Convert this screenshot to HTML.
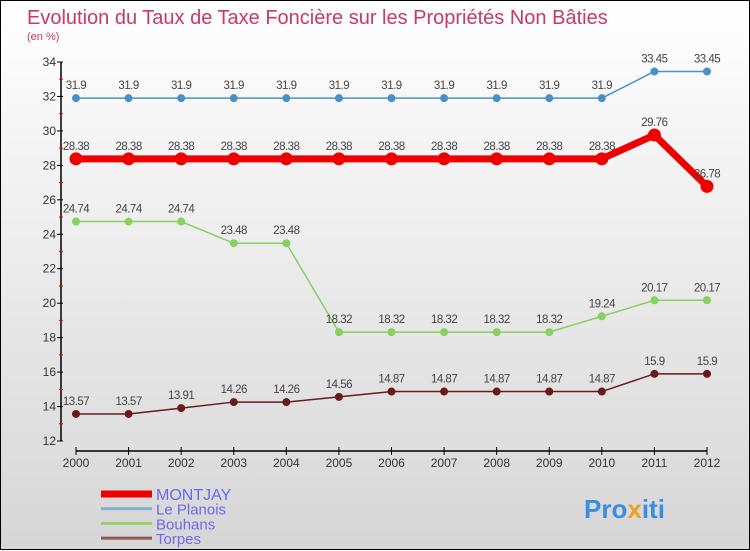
<!DOCTYPE html>
<html><head><meta charset="utf-8"><style>
html,body{margin:0;padding:0}
body{width:750px;height:550px;overflow:hidden;font-family:"Liberation Sans",sans-serif}
#wrap{position:relative;width:748px;height:548px;border:1px solid #000;background:linear-gradient(#ffffff,#d6d6d6)}
svg{position:absolute;left:0;top:0}
</style></head><body>
<div id="wrap">
<svg id="chart" width="750" height="550">
<text x="26" y="23" font-size="20" fill="#c8386a">Evolution du Taux de Taxe Foncière sur les Propriétés Non Bâties</text>
<text x="26" y="39" font-size="11" fill="#c8386a">(en %)</text>
<g id="axes"></g>
<g id="series"></g>
<g id="legend"></g>
<text x="583" y="517" font-size="26" font-weight="bold" fill="#3a8ee0">Pro<tspan fill="#f0a020">x</tspan><tspan fill="#3a8ee0">iti</tspan></text>
</svg>
</div>
<script>
const years=[2000,2001,2002,2003,2004,2005,2006,2007,2008,2009,2010,2011,2012];
const montjay=[28.38,28.38,28.38,28.38,28.38,28.38,28.38,28.38,28.38,28.38,28.38,29.76,26.78];
const lePlanois=[31.9,31.9,31.9,31.9,31.9,31.9,31.9,31.9,31.9,31.9,31.9,33.45,33.45];
const bouhans=[24.74,24.74,24.74,23.48,23.48,18.32,18.32,18.32,18.32,18.32,19.24,20.17,20.17];
const torpes=[13.57,13.57,13.91,14.26,14.26,14.56,14.87,14.87,14.87,14.87,14.87,15.9,15.9];
const yTicks=[12,14,16,18,20,22,24,26,28,30,32,34];
const seriesNames=["MONTJAY","Le Planois","Bouhans","Torpes"];

const NS="http://www.w3.org/2000/svg";
const X=i=>75+i*(706-75)/(years.length-1);
const Y=v=>440-(v-12)*(440-61)/22;
function mk(tag,at,parent){const e=document.createElementNS(NS,tag);for(const k in at)e.setAttribute(k,at[k]);parent.appendChild(e);return e;}
const axes=document.getElementById('axes');
let a=mk('line',{x1:60,y1:Y(34),x2:60,y2:Y(12),stroke:'#000','stroke-width':1.5},axes);


a=mk('line',{x1:75,y1:450,x2:706,y2:450,stroke:'#000','stroke-width':1.5},axes);


yTicks.forEach(v=>{
  mk('line',{x1:56,x2:62,y1:Y(v),y2:Y(v),stroke:'#000'},axes);
  if(v<34)mk('line',{x1:58,x2:62,y1:Y(v+1),y2:Y(v+1),stroke:'#e00'},axes);
  const t=mk('text',{x:55,y:Y(v)+4,'font-size':12,fill:'#333','text-anchor':'end'},axes);
  t.textContent=v;
  
  
});
years.forEach((y,i)=>{
  mk('line',{x1:X(i),x2:X(i),y1:446,y2:454,stroke:'#000'},axes);
  const t=mk('text',{x:X(i),y:466,'font-size':12,fill:'#333','text-anchor':'middle'},axes);
  t.textContent=y;
  
  
});
const sg=document.getElementById('series');
function draw(vals,color,w,r,name){
  const g=mk('g',{},sg);
  
  
  mk('polyline',{points:vals.map((v,i)=>X(i)+','+Y(v)).join(' '),fill:'none',stroke:color,'stroke-width':w,'stroke-linejoin':'round'},g);
  vals.forEach((v,i)=>{
    const c=mk('circle',{cx:X(i),cy:Y(v),r:r,fill:color},g);
    
    
    const t=mk('text',{x:X(i),y:Y(v)-9,'font-size':11.5,fill:'#444','text-anchor':'middle','letter-spacing':'-0.5'},g);
    t.textContent=v;
    
    
  });
}
draw(lePlanois,'#4a90c8',1.5,4,'series-le-planois');
draw(bouhans,'#88d060',1.5,4,'series-bouhans');
draw(torpes,'#6a1a1a',1.5,4,'series-torpes');
draw(montjay,'#ee0000',7,6.5,'series-montjay');
const lg=document.getElementById('legend');
const lc=['#ee0000','#80b0d0','#98d070','#905858'],lw=[7,3,3,3];
seriesNames.forEach((n,i)=>{
  const yy=493+i*14.7;
  const e=mk('line',{x1:100,x2:151,y1:yy,y2:yy,stroke:lc[i],'stroke-width':lw[i]},lg);
  
  
  const t=mk('text',{x:155,y:yy+6,'font-size':i==0?16:15,fill:'#6a6af0'},lg);
  t.textContent=n;
  
  
});
</script>
</body></html>
